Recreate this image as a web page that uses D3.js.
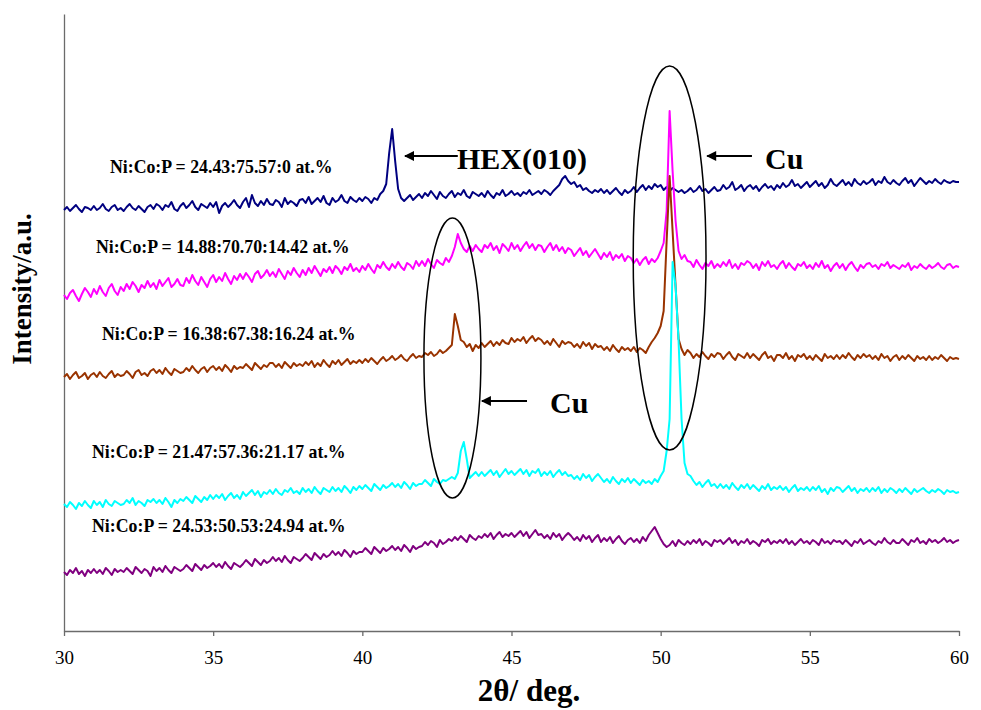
<!DOCTYPE html>
<html><head><meta charset="utf-8">
<script src="https://cdn.jsdelivr.net/npm/d3@7"></script>
<style>body{margin:0;background:#fff}svg{display:block}</style>
</head><body><svg id="chart" width="981" height="710"></svg>
<script>
// 2θ grid (degrees), 0.1° step
const twoTheta = d3.range(301).map(i => +(30 + i * 0.1).toFixed(1));
const xTicks = [30, 35, 40, 45, 50, 55, 60];
const seriesLabels = [
  "Ni:Co:P = 24.43:75.57:0 at.%",
  "Ni:Co:P = 14.88:70.70:14.42 at.%",
  "Ni:Co:P = 16.38:67.38:16.24 at.%",
  "Ni:Co:P = 21.47:57.36:21.17 at.%",
  "Ni:Co:P = 24.53:50.53:24.94 at.%"
];
// intensities (a.u., stacked with offsets as in the figure)
const s1 = [
421,424,420,423,426,422,419,424,423,421,
425,421,423,427,422,420,424,426,421,423,
420,424,427,423,421,425,422,419,424,426,
422,427,425,421,426,424,429,422,420,425,
428,423,426,430,424,421,427,425,423,428,
424,429,418,425,428,424,427,431,426,423,
429,433,424,436,428,425,430,426,432,427,
426,431,429,424,433,427,430,428,425,431,
432,428,434,427,430,433,429,435,428,426,
433,429,431,436,430,428,434,431,429,433,
430,434,432,428,433,431,437,440,447,478,
502,470,442,433,430,433,436,431,434,437,
433,438,435,440,436,432,439,435,433,437,
440,434,438,436,441,435,433,439,437,435,
438,434,440,436,433,438,436,441,435,437,
440,436,438,435,439,437,441,436,438,440,
437,441,439,436,440,443,446,452,455,450,
447,449,444,446,441,443,440,438,441,439,
442,438,441,437,440,443,439,436,441,438,
440,444,439,443,446,441,445,442,447,444,
446,441,444,440,443,441,439,441,438,440,
443,439,441,445,440,442,438,441,444,440,
441,446,442,444,449,441,443,446,440,444,
446,442,445,440,444,447,443,445,441,446,
443,448,444,446,451,445,447,443,446,449,
444,447,450,445,448,443,446,452,447,445,
448,451,446,449,445,452,448,446,450,447,
449,452,446,450,448,454,449,447,451,448,
446,450,453,448,451,445,449,453,450,447,
450,448,452,449,447,451,449,448,450,449,
449];
const s2 = [
336,332,338,341,335,330,337,343,339,334,
342,337,345,339,335,343,347,340,336,344,
340,347,342,349,345,339,346,343,350,344,
348,342,351,345,349,353,344,347,352,346,
345,353,348,356,350,346,354,349,344,352,
356,349,354,350,358,352,347,355,351,357,
352,358,354,349,357,360,353,356,361,355,
359,354,362,357,352,360,356,363,358,354,
361,356,363,358,365,360,355,362,359,364,
358,365,362,357,364,361,367,360,363,359,
365,361,367,362,358,366,363,369,364,361,
367,363,369,364,361,368,366,362,370,365,
370,365,372,367,363,371,368,366,373,369,
375,384,397,388,382,379,385,380,386,382,
379,386,383,388,381,385,378,387,384,380,
388,382,386,380,385,389,383,387,381,386,
385,379,384,388,381,386,380,384,378,383,
381,375,379,383,376,380,374,378,382,377,
372,378,374,379,371,376,373,377,370,375,
373,368,372,366,371,374,367,372,369,373,
380,388,420,520,460,410,380,372,376,370,
369,364,371,366,362,368,365,370,363,367,
364,369,365,371,363,367,362,368,366,370,
368,363,367,361,369,365,370,364,366,362,
367,370,363,368,364,361,367,365,369,363,
366,362,368,364,370,363,366,360,365,368,
363,367,361,366,369,364,360,366,363,367,
368,364,366,362,367,365,369,363,366,364,
362,366,364,368,361,365,363,367,364,362,
366,363,365,368,364,362,366,367,363,365,
364];
const s3 = [
254,257,252,256,259,253,255,258,252,256,
258,254,259,255,253,257,260,254,257,255,
256,260,257,253,259,261,256,258,255,260,
262,258,261,257,263,259,256,262,260,258,
259,263,260,265,261,258,262,264,259,263,
265,261,264,260,266,263,259,265,262,264,
263,267,264,261,268,265,262,266,264,268,
268,264,267,263,269,266,263,268,265,267,
265,269,266,270,264,268,265,271,267,264,
270,267,271,266,269,272,267,270,268,271,
268,272,269,273,270,267,271,274,270,272,
275,271,273,276,272,270,274,277,273,275,
274,278,276,279,275,277,281,278,280,283,
286,317,305,291,289,284,287,280,286,283,
288,284,287,290,285,289,286,291,288,287,
293,289,292,290,294,288,292,295,290,293,
291,287,290,286,292,288,284,290,287,289,
288,284,287,283,289,285,288,282,287,284,
285,281,284,280,286,282,279,284,281,283,
280,284,279,283,281,278,284,289,293,298,
305,320,390,455,400,345,292,282,276,281,
278,273,277,274,279,275,272,277,274,278,
277,272,276,279,274,271,277,275,273,278,
273,277,274,271,276,279,273,275,270,276,
276,273,278,272,275,270,276,274,277,272,
275,271,276,273,270,277,273,275,272,276,
272,276,273,278,274,271,276,273,277,274,
276,272,275,271,277,273,275,270,274,276,
271,275,272,276,273,270,275,272,274,271,
275,271,274,272,276,273,270,274,272,273,
272];
const s4 = [
127,124,129,126,122,128,125,130,126,123,
130,126,129,124,131,127,125,130,128,126,
127,131,128,133,126,130,128,125,131,129,
132,128,131,127,133,129,124,131,128,132,
130,134,131,128,135,132,129,134,131,136,
132,136,133,137,131,135,138,133,136,132,
139,135,138,141,136,140,134,139,137,141,
137,142,138,136,141,139,143,138,140,137,
143,139,142,138,144,140,137,143,141,139,
144,140,143,139,145,142,138,144,141,145,
142,146,143,140,147,144,141,146,143,145,
148,144,147,143,149,146,142,148,145,147,
147,151,148,145,152,149,147,151,150,152,
154,152,158,180,189,172,153,156,159,155,
159,155,158,161,156,160,154,158,162,157,
160,156,159,162,157,161,155,160,158,162,
155,159,156,160,154,158,161,156,159,155,
156,152,155,151,157,153,156,150,154,157,
153,149,152,148,154,150,147,152,149,153,
148,152,149,146,151,148,150,147,152,149,
155,160,180,212,369,345,290,212,168,157,
155,150,146,149,144,148,151,145,147,143,
147,143,146,142,148,144,141,146,143,147,
142,146,143,140,145,142,147,141,144,142,
145,141,144,139,143,146,140,143,141,144,
140,144,141,145,139,142,137,143,140,144,
143,139,142,145,140,143,138,142,140,143,
139,143,140,144,138,142,139,143,141,138,
142,139,143,140,137,142,139,141,143,140,
138,141,139,142,140,137,141,139,140,138,
139];
const s5 = [
59,56,61,58,63,57,60,55,61,58,
62,58,61,57,63,60,56,62,59,61,
59,63,60,57,64,61,58,62,60,55,
64,60,63,59,65,61,58,64,62,60,
62,66,63,60,67,64,61,66,63,65,
68,64,67,63,69,65,62,68,66,64,
67,71,68,65,72,69,66,71,68,70,
74,70,73,69,75,71,68,74,72,70,
73,77,74,71,78,75,72,77,74,76,
80,76,79,75,81,78,74,80,77,79,
79,83,80,77,84,81,78,83,80,82,
85,81,84,80,86,83,79,85,82,84,
85,89,86,90,88,84,91,87,89,92,
90,94,91,95,92,89,96,93,91,95,
93,97,94,98,92,96,99,94,97,95,
98,94,97,100,95,99,93,97,101,96,
97,93,96,92,98,94,97,91,95,98,
95,91,94,90,96,92,95,89,93,96,
89,93,90,94,88,92,95,90,87,91,
93,89,92,88,94,90,96,100,104,98,
92,87,84,86,90,85,91,88,86,90,
87,91,88,92,86,90,88,85,91,89,
91,87,90,93,88,91,86,90,88,92,
87,90,88,85,91,89,92,87,90,88,
91,88,92,87,90,86,89,92,88,90,
87,91,89,86,92,88,90,87,91,89,
90,87,91,88,85,90,88,92,87,89,
91,88,86,90,88,93,89,87,91,88,
88,92,89,86,91,89,93,88,90,87,
92,89,91,88,90,93,89,91,88,90,
91];
const seriesValues = [s1, s2, s3, s4, s5];
const seriesColors = ["#000080", "#FF00FF", "#993300", "#00FFFF", "#800080"];

const svg = d3.select("#chart");
const x = d3.scaleLinear().domain([30, 60]).range([64, 959]);
const y = d3.scaleLinear().domain([0, 617]).range([631, 14]);
const serif = "'Liberation Serif', 'Times New Roman', serif";

// axes
const gx = svg.append("g").attr("transform", `translate(0,${y(0)})`)
  .call(d3.axisBottom(x).tickValues(xTicks).tickSize(5).tickSizeOuter(0).tickPadding(15));
gx.select(".domain").attr("stroke", "#6b6b6b").attr("stroke-width", 1.3);
gx.selectAll(".tick line").attr("stroke", "#6b6b6b").attr("stroke-width", 1.3);
gx.selectAll(".tick text").attr("font-family", serif)
  .attr("font-size", 19).attr("fill", "#000");
const gy = svg.append("g").attr("transform", `translate(${x(30)},0)`)
  .call(d3.axisLeft(y).tickValues([]).tickSizeOuter(0));
gy.select(".domain").attr("stroke", "#6b6b6b").attr("stroke-width", 1.3);

// series
const line = d3.line().x((d, i) => x(twoTheta[i])).y(d => y(d));
seriesValues.forEach((vals, k) => {
  svg.append("path").datum(vals).attr("d", line)
    .attr("fill", "none").attr("stroke", seriesColors[k])
    .attr("stroke-width", 2).attr("stroke-linejoin", "round");
});

// series labels
const labelPos = [[31.54, 458], [31.07, 378], [31.27, 291], [30.94, 173], [30.94, 99]];
seriesLabels.forEach((t, k) => {
  svg.append("text").attr("x", x(labelPos[k][0])).attr("y", y(labelPos[k][1]))
    .attr("font-family", serif).attr("font-weight", "bold").attr("font-size", 17.8)
    .text(t);
});

// ellipses
function ellipse(cx, cy, dx, dy) {
  svg.append("ellipse").attr("cx", x(cx)).attr("cy", y(cy))
    .attr("rx", x(cx + dx) - x(cx)).attr("ry", y(cy) - y(cy + dy))
    .attr("fill", "none").attr("stroke", "#000").attr("stroke-width", 1.5);
}
ellipse(50.3, 373, 1.22, 192);
ellipse(43.02, 273, 0.955, 140);

// arrows
svg.append("defs").append("marker").attr("id", "ah")
  .attr("viewBox", "0 0 10 10").attr("refX", 9).attr("refY", 5)
  .attr("markerWidth", 6).attr("markerHeight", 5).attr("markerUnits", "strokeWidth")
  .attr("orient", "auto")
  .append("path").attr("d", "M0,0L10,5L0,10Z").attr("fill", "#000");
function arrow(x0, x1, v, label, lx, lv) {
  svg.append("line").attr("x1", x(x0)).attr("x2", x(x1)).attr("y1", y(v)).attr("y2", y(v))
    .attr("stroke", "#000").attr("stroke-width", 2).attr("marker-end", "url(#ah)");
  svg.append("text").attr("x", x(lx)).attr("y", y(lv))
    .attr("font-family", serif).attr("font-weight", "bold").attr("font-size", 30).text(label);
}
arrow(43.2, 41.43, 475, "HEX(010)", 43.17, 462);
arrow(53.06, 51.56, 475, "Cu", 53.5, 462);
arrow(45.52, 44.01, 230, "Cu", 46.29, 218);

// axis titles
svg.append("text").attr("x", 529).attr("y", 701).attr("text-anchor", "middle")
  .attr("font-family", serif).attr("font-weight", "bold").attr("font-size", 31)
  .text("2θ/ deg.");
svg.append("text").attr("transform", "translate(31,289) rotate(-90)").attr("text-anchor", "middle")
  .attr("font-family", serif).attr("font-weight", "bold").attr("font-size", 27)
  .text("Intensity/a.u.");
</script></body></html>
